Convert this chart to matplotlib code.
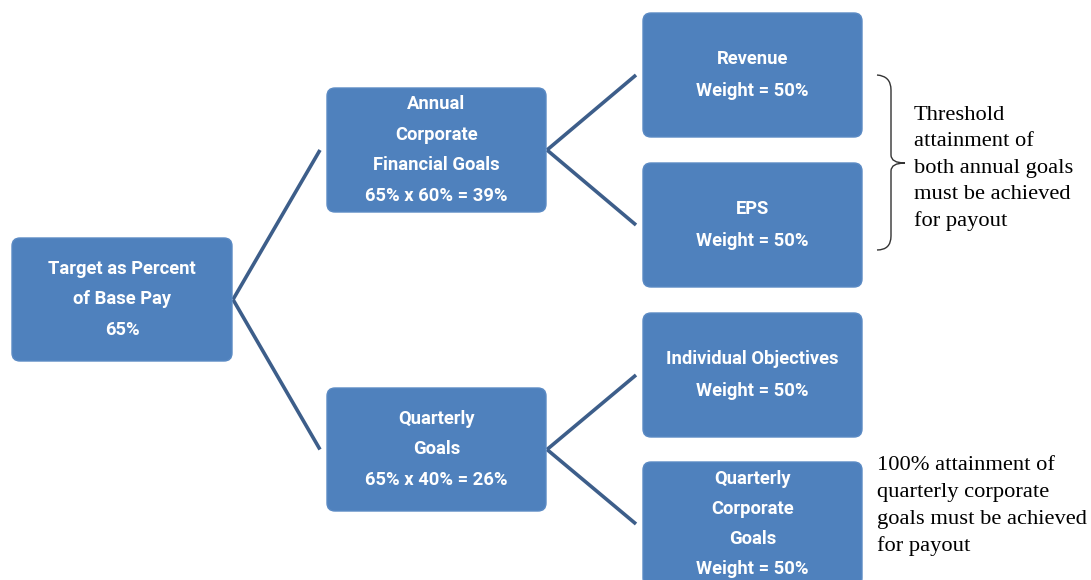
import matplotlib.pyplot as plt
from matplotlib.patches import FancyBboxPatch, PathPatch
from matplotlib.path import Path

# Node labels (tree: root -> two branches -> two leaves each)
root_label = ['Target as Percent', 'of Base Pay', '65%']
branch_labels = [
    ['Annual', 'Corporate', 'Financial Goals', '65% x 60% = 39%'],
    ['Quarterly', 'Goals', '65% x 40% = 26%'],
]
leaf_labels = [
    ['Revenue', 'Weight = 50%'],
    ['EPS', 'Weight = 50%'],
    ['Individual Objectives', 'Weight = 50%'],
    ['Quarterly', 'Corporate', 'Goals', 'Weight = 50%'],
]
note_top = ['Threshold', 'attainment of', 'both annual goals', 'must be achieved', 'for payout']
note_bottom = ['100% attainment of', 'quarterly corporate', 'goals must be achieved', 'for payout']

# Layout in pixel units (x0, y0, w, h)
root_box = (12, 238, 220, 123)
branch_boxes = [(327, 88, 219, 124), (327, 388, 219, 123)]
leaf_boxes = [(643, 13, 219, 124), (643, 163, 219, 124),
              (643, 313, 219, 124), (643, 462, 219, 124)]

box_color = '#4f81bd'
line_color = '#3d5e8a'
box_font = ['Roboto', 'DejaVu Sans']

fig = plt.figure(figsize=(10.91, 5.80), dpi=100)
ax = fig.add_axes([0, 0, 1, 1])
ax.set_xlim(0, 1091)
ax.set_ylim(580, 0)
ax.axis('off')


def draw_box(box, lines, line_gap=30.5):
    x0, y0, w, h = box
    ax.add_patch(FancyBboxPatch((x0, y0), w, h,
                                boxstyle='round,pad=0,rounding_size=8',
                                fc=box_color, ec='#5a8ac4', lw=1.0, zorder=2))
    cx, cy = x0 + w / 2, y0 + h / 2
    n = len(lines)
    for i, t in enumerate(lines):
        y = cy + (i - (n - 1) / 2) * line_gap
        ax.text(cx, y, t, ha='center', va='center', color='white',
                fontsize=13.2, fontweight='bold', family=box_font, zorder=3)


def connect(parent, child):
    px0, py0, pw, ph = parent
    cx0, cy0, cw, ch = child
    ax.plot([px0 + pw + 1, cx0 - 7], [py0 + ph / 2, cy0 + ch / 2],
            color=line_color, lw=2.6, solid_capstyle='butt', zorder=1)


for b in branch_boxes:
    connect(root_box, b)
for i, lb in enumerate(leaf_boxes):
    connect(branch_boxes[i // 2], lb)

draw_box(root_box, root_label)
draw_box(branch_boxes[0], branch_labels[0])
draw_box(branch_boxes[1], branch_labels[1])
draw_box(leaf_boxes[0], leaf_labels[0], line_gap=31)
draw_box(leaf_boxes[1], leaf_labels[1], line_gap=31)
draw_box(leaf_boxes[2], leaf_labels[2], line_gap=31)
draw_box(leaf_boxes[3], leaf_labels[3], line_gap=30)

# Curly brace next to the annual goals
verts = [(877, 75), (891, 76), (891, 90),
         (891, 155), (891, 163), (905, 163),
         (891, 163), (891, 171),
         (891, 236), (891, 250), (877, 250)]
codes = [Path.MOVETO, Path.CURVE3, Path.CURVE3,
         Path.LINETO, Path.CURVE3, Path.CURVE3,
         Path.CURVE3, Path.CURVE3,
         Path.LINETO, Path.CURVE3, Path.CURVE3]
ax.add_patch(PathPatch(Path(verts, codes), fc='none', ec='#333333', lw=1.0))

serif = ['Liberation Serif', 'DejaVu Serif']
for i, t in enumerate(note_top):
    ax.text(914, 115 + i * 26.6, t, ha='left', va='center', fontsize=16.2,
            family=serif, color='black')
for i, t in enumerate(note_bottom):
    ax.text(877, 466 + i * 26.8, t, ha='left', va='center', fontsize=16.2,
            family=serif, color='black')

fig.savefig('out.png', dpi=100)
